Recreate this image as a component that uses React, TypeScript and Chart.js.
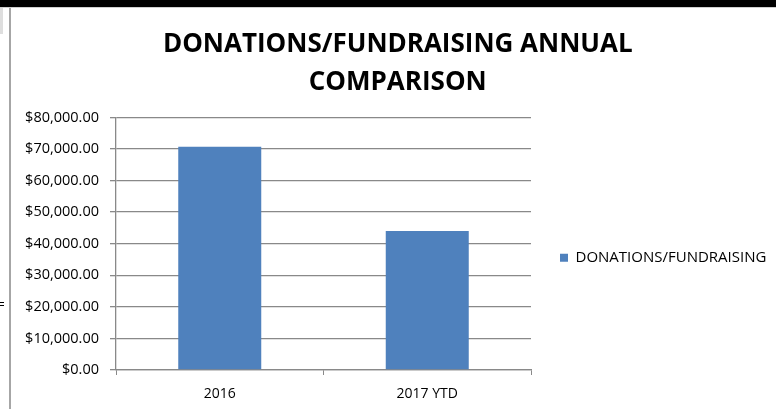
import React, { useEffect, useRef } from "react";
import { Chart, registerables } from "chart.js";

Chart.register(...registerables);

const categories = ["2016", "2017 YTD"];
const seriesLabel = "DONATIONS/FUNDRAISING";
const seriesValues = [70700, 44050];
const titleLines = ["DONATIONS/FUNDRAISING ANNUAL", "COMPARISON"];
const yMin = 0;
const yMax = 80000;
const yStep = 10000;

const BAR = "#4F81BD";
const GRID = "#898989";
const FONT = "'Open Sans', 'Noto Sans', sans-serif";

function fmt(v: number) {
  return "$" + v.toLocaleString("en-US", { minimumFractionDigits: 2, maximumFractionDigits: 2 });
}

export default function App() {
  const ref = useRef<HTMLCanvasElement | null>(null);

  useEffect(() => {
    if (!ref.current) return;
    const chart = new Chart(ref.current, {
      type: "bar",
      data: {
        labels: categories,
        datasets: [
          {
            label: seriesLabel,
            data: seriesValues,
            backgroundColor: BAR,
            borderWidth: 0,
            barPercentage: 0.4,
            categoryPercentage: 1,
          },
        ],
      },
      options: {
        animation: false,
        responsive: false,
        maintainAspectRatio: false,
        devicePixelRatio: 1,
        layout: { padding: { left: 10, right: 1.5, top: 0, bottom: 0 } },
        plugins: {
          tooltip: { enabled: false },
          title: {
            display: true,
            text: titleLines,
            color: "#000",
            font: { family: FONT, size: 26, weight: "bold", lineHeight: 1.45 },
            padding: { top: 18, bottom: 16 },
          },
          legend: {
            display: true,
            position: "right",
            fullSize: false,
            maxWidth: 243.5,
            title: { display: true, text: "", padding: 8, font: { size: 10, lineHeight: 1.2 } },
            labels: {
              boxWidth: 8,
              boxHeight: 8,
              padding: 29,
              color: "#000",
              font: { family: FONT, size: 15 },
            },
          },
        },
        scales: {
          x: {
            afterFit: (s: any) => {
              s.height = 39;
            },
            grid: {
              display: true,
              drawOnChartArea: false,
              drawTicks: true,
              tickLength: 5,
              color: GRID,
              offset: true,
            },
            border: { display: true, color: GRID, width: 1.3 },
            ticks: {
              color: "#000",
              padding: 11,
              font: { family: FONT, size: 14 },
            },
          },
          y: {
            min: yMin,
            max: yMax,
            afterFit: (s: any) => {
              s.width = 95;
            },
            grid: {
              color: GRID,
              lineWidth: 1.3,
              tickLength: 6,
              drawTicks: true,
            },
            border: { display: true, color: GRID, width: 1.3 },
            ticks: {
              stepSize: yStep,
              color: "#000",
              padding: 11,
              font: { family: FONT, size: 14.5 },
              callback: (v: any) => fmt(Number(v)),
            },
          },
        },
      },
    });
    return () => chart.destroy();
  }, []);

  return (
    <div
      style={{
        position: "fixed",
        left: 0,
        top: 0,
        width: 776,
        height: 409,
        background: "#fff",
        overflow: "hidden",
      }}
    >
      <div style={{ position: "absolute", left: 0, top: 0, width: 776, height: 7, background: "#000" }} />
      <div style={{ position: "absolute", left: 0, top: 7, width: 776, height: 1, background: "#cfcfcf" }} />
      <div style={{ position: "absolute", left: 0, top: 8, width: 3, height: 26, background: "#dedede" }} />
      <div style={{ position: "absolute", left: 9, top: 8, width: 1.5, height: 401, background: "#a6a6a6" }} />
      <div style={{ position: "absolute", left: 0, top: 302, width: 4, height: 1, background: "#000" }} />
      <div style={{ position: "absolute", left: 0, top: 305, width: 4, height: 1, background: "#000" }} />
      <div style={{ position: "absolute", left: 11, top: 8, width: 765, height: 401 }}>
        <canvas ref={ref} width={765} height={401} style={{ display: "block" }} />
      </div>
    </div>
  );
}
